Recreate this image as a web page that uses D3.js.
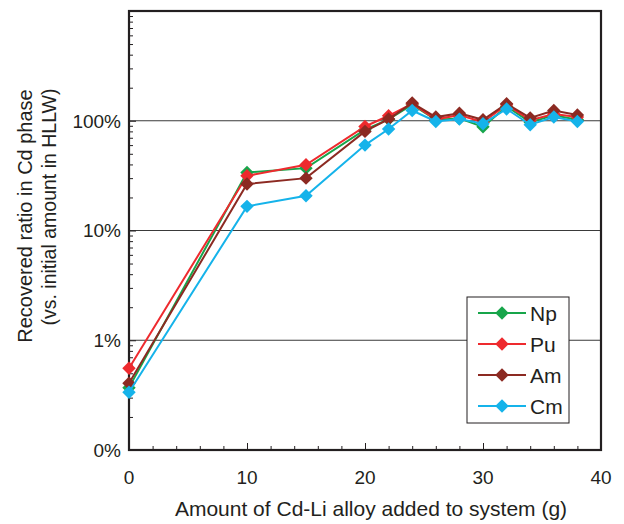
<!DOCTYPE html>
<meta charset="utf-8">
<style>

body {
  margin: 0;
  font: 19px "Liberation Sans", Arial, sans-serif;
  background: #fff;
}

.tick-label {
  fill: #231f20;
}

</style>
<body>
<script src="https://cdn.jsdelivr.net/npm/d3@7"></script>
<script>

// data (percent of initial amount)
var amounts = [0, 10, 15, 20, 22, 24, 26, 28, 30, 32, 34, 36, 38];
var np = [0.37, 33.8, 37, 83, 103, 140, 102, 105, 88, 135, 97, 112, 102];
var pu = [0.556, 31.5, 39.7, 88.7, 111, 143, 103, 113, 97, 140, 101, 115, 108];
var am = [0.406, 26.5, 30, 80, 103.6, 145, 108, 117, 102, 143, 106, 124, 113];
var cm = [0.336, 16.6, 20.7, 60, 84, 124, 98.5, 103.5, 94, 128, 92, 108, 98.5];

var seriesNames = ["Np", "Pu", "Am", "Cm"];
var seriesColors = ["#17a54a", "#ee2a2e", "#8c2a22", "#15b3ea"];

var yTickValues = [0.1, 1, 10, 100];
var yTickLabels = ["0%", "1%", "10%", "100%"];
var xTickValues = [0, 10, 20, 30, 40];

var margin = {top: 11, right: 23, bottom: 74, left: 129},
    width = 624 - margin.left - margin.right,
    height = 524 - margin.top - margin.bottom;

var x = d3.scaleLinear()
    .domain([0, 40])
    .range([0, width]);

var y = d3.scaleLog()
    .domain([0.1, 1000])
    .range([height, 0]);

var svg = d3.select("body").append("svg")
    .attr("width", 624)
    .attr("height", 524)
  .append("g")
    .attr("transform", "translate(" + margin.left + "," + margin.top + ")");

// gridlines at the labelled decades
svg.selectAll(".grid")
    .data([1, 10, 100])
  .enter().append("line")
    .attr("class", "grid")
    .attr("x1", 0)
    .attr("x2", width)
    .attr("y1", function(d) { return y(d); })
    .attr("y2", function(d) { return y(d); })
    .style("stroke", "#3a3a3a")
    .style("stroke-width", 1.1);

// minor + major y ticks, pointing inward
var yMinor = [];
[0.1, 1, 10, 100].forEach(function(dec) {
  for (var k = 2; k <= 9; k++) yMinor.push(dec * k);
});
var yAxisMinor = d3.axisRight(y).tickValues(yMinor).tickSize(4).tickFormat("");
var yAxisMajor = d3.axisRight(y).tickValues([0.1, 1, 10, 100, 1000]).tickSize(7).tickFormat("");

svg.append("g").call(yAxisMinor).call(function(g) {
  g.select(".domain").remove();
  g.selectAll("line").style("stroke", "#231f20");
});
svg.append("g").call(yAxisMajor).call(function(g) {
  g.select(".domain").remove();
  g.selectAll("line").style("stroke", "#231f20");
});

// x ticks, pointing inward (up)
var xAxisMinor = d3.axisTop(x).tickValues(d3.range(2, 40, 2)).tickSize(4).tickFormat("");
var xAxisMajor = d3.axisTop(x).tickValues(xTickValues).tickSize(7).tickFormat("");

svg.append("g").attr("transform", "translate(0," + height + ")").call(xAxisMinor).call(function(g) {
  g.select(".domain").remove();
  g.selectAll("line").style("stroke", "#231f20");
});
svg.append("g").attr("transform", "translate(0," + height + ")").call(xAxisMajor).call(function(g) {
  g.select(".domain").remove();
  g.selectAll("line").style("stroke", "#231f20");
});

// frame
svg.append("rect")
    .attr("width", width)
    .attr("height", height)
    .style("fill", "none")
    .style("stroke", "#231f20")
    .style("stroke-width", 2.2);

// tick labels
svg.selectAll(".ylab")
    .data(yTickValues)
  .enter().append("text")
    .attr("class", "tick-label")
    .attr("x", -8)
    .attr("y", function(d) { return y(d); })
    .attr("dy", ".36em")
    .style("text-anchor", "end")
    .text(function(d, i) { return yTickLabels[i]; });

svg.selectAll(".xlab")
    .data(xTickValues)
  .enter().append("text")
    .attr("class", "tick-label")
    .attr("x", function(d) { return x(d); })
    .attr("y", height + 34)
    .style("text-anchor", "middle")
    .text(function(d) { return d; });

// axis titles
svg.append("text")
    .attr("class", "tick-label")
    .attr("text-anchor", "middle")
    .style("font-size", "21px")
    .attr("transform", "translate(" + (width / 2 + 6) + "," + (height + 66) + ")")
    .text("Amount of Cd-Li alloy added to system (g)");

svg.append("text")
    .attr("class", "tick-label")
    .attr("text-anchor", "middle")
    .style("font-size", "20px")
    .attr("transform", "translate(-97," + (216 - margin.top) + ")rotate(-90)")
    .text("Recovered ratio in Cd phase");

svg.append("text")
    .attr("class", "tick-label")
    .attr("text-anchor", "middle")
    .style("font-size", "19.5px")
    .attr("transform", "translate(-73," + (207 - margin.top) + ")rotate(-90)")
    .text("(vs. initial amount in HLLW)");

// series
var series = [np, pu, am, cm].map(function(vals, i) {
  return {
    name: seriesNames[i],
    color: seriesColors[i],
    values: amounts.map(function(a, j) { return {x: a, y: vals[j]}; })
  };
});

var line = d3.line()
    .x(function(d) { return x(d.x); })
    .y(function(d) { return y(d.y); });

var diamond = d3.symbol().type(d3.symbolDiamond2).size(115);

series.forEach(function(s) {
  var g = svg.append("g");
  g.append("path")
      .datum(s.values)
      .attr("d", line)
      .style("fill", "none")
      .style("stroke", s.color)
      .style("stroke-width", 2);
  g.selectAll("path.pt")
      .data(s.values)
    .enter().append("path")
      .attr("class", "pt")
      .attr("d", diamond)
      .attr("transform", function(d) { return "translate(" + x(d.x) + "," + y(d.y) + ")"; })
      .style("fill", s.color);
});

// legend
var lg = svg.append("g")
    .attr("transform", "translate(" + (467 - margin.left) + "," + (297 - margin.top) + ")");

lg.append("rect")
    .attr("width", 102)
    .attr("height", 126)
    .style("fill", "#fff")
    .style("stroke", "#231f20")
    .style("stroke-width", 1);

var items = lg.selectAll(".legend")
    .data(series)
  .enter().append("g")
    .attr("class", "legend")
    .attr("transform", function(d, i) { return "translate(0," + (16 + i * 31) + ")"; });

items.append("line")
    .attr("x1", 11)
    .attr("x2", 59)
    .style("stroke", function(d) { return d.color; })
    .style("stroke-width", 2);

items.append("path")
    .attr("d", diamond)
    .attr("transform", "translate(35,0)")
    .style("fill", function(d) { return d.color; });

items.append("text")
    .attr("class", "tick-label")
    .attr("x", 63)
    .attr("dy", ".36em")
    .style("font-size", "21px")
    .text(function(d) { return d.name; });

</script>
